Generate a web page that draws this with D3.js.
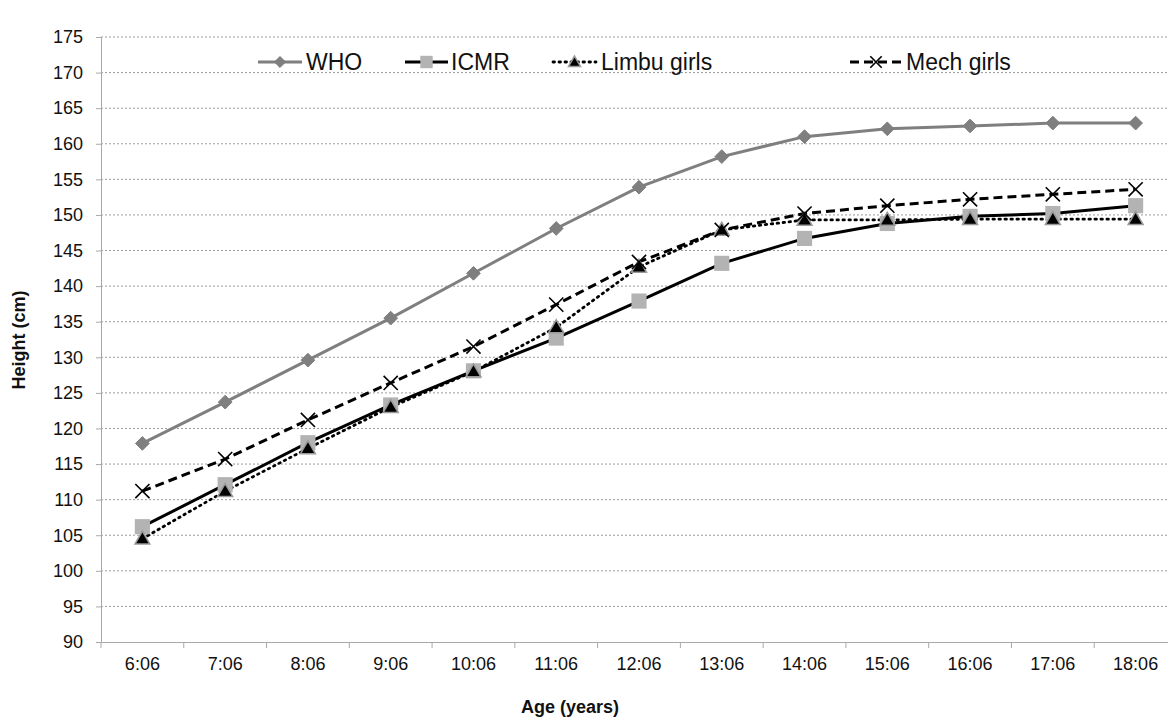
<!DOCTYPE html>
<head>
  <meta charset="utf-8">
  <title>Height by age</title>
  <script src="https://d3js.org/d3.v7.min.js"></script>
  <style>
    body { margin: 0; background: #fff; }
    text { font-family: "Liberation Sans", Arial, sans-serif; fill: #111; }
    .grid line { stroke: #9a9a9a; stroke-dasharray: 2,2; stroke-width: 1; }
  </style>
</head>
<body>
  <script>
    var ages = ["6:06", "7:06", "8:06", "9:06", "10:06", "11:06", "12:06",
                "13:06", "14:06", "15:06", "16:06", "17:06", "18:06"];
    var who   = [117.9, 123.7, 129.6, 135.5, 141.8, 148.1, 153.9, 158.2, 161.0, 162.1, 162.5, 162.9, 162.9];
    var icmr  = [106.2, 112.1, 118.0, 123.3, 128.1, 132.7, 137.9, 143.2, 146.7, 148.8, 149.8, 150.2, 151.3];
    var limbu = [104.5, 111.2, 117.2, 123.0, 128.0, 134.2, 142.7, 147.9, 149.3, 149.3, 149.4, 149.4, 149.4];
    var mech  = [111.2, 115.7, 121.2, 126.4, 131.5, 137.4, 143.4, 147.9, 150.2, 151.3, 152.2, 152.9, 153.6];
    var yTicks = d3.range(90, 176, 5);

    var width = 1168, height = 722,
        plotLeft = 101, plotRight = 1177, plotTop = 37, plotBottom = 642;

    var svg = d3.select("body").append("svg")
        .attr("width", width)
        .attr("height", height);

    var x = d3.scaleBand().domain(ages).range([plotLeft, plotRight]).padding(0),
        y = d3.scaleLinear().domain([90, 175]).range([plotBottom, plotTop]);

    function cx(d, i) { return x(ages[i]) + x.bandwidth() / 2; }

    // gridlines
    svg.append("g").attr("class", "grid")
      .selectAll("line")
      .data(yTicks.slice(1))
      .enter().append("line")
        .attr("x1", plotLeft).attr("x2", width)
        .attr("y1", function(d) { return y(d); })
        .attr("y2", function(d) { return y(d); });

    // y axis
    var yAxis = svg.append("g")
        .attr("transform", "translate(" + plotLeft + ",0)")
        .call(d3.axisLeft(y).tickValues(yTicks).tickSize(5).tickPadding(13));
    yAxis.select(".domain").attr("stroke", "#a8a8a8");
    yAxis.selectAll(".tick line").attr("stroke", "#a8a8a8");
    yAxis.selectAll("text").style("font-size", "18px")
      .style("font-family", "'Liberation Sans', Arial, sans-serif").attr("fill", "#222");

    // x axis
    var xAxis = svg.append("g")
        .attr("transform", "translate(0," + plotBottom + ")")
        .call(d3.axisBottom(x).tickSize(0).tickPadding(15));
    xAxis.select(".domain").attr("stroke", "#a8a8a8");
    xAxis.selectAll("text").style("font-size", "18px")
      .style("font-family", "'Liberation Sans', Arial, sans-serif").attr("fill", "#222");
    svg.append("g").selectAll("line")
      .data(ages)
      .enter().append("line")
        .attr("x1", function(d) { return x(d); })
        .attr("x2", function(d) { return x(d); })
        .attr("y1", plotBottom).attr("y2", plotBottom + 6)
        .attr("stroke", "#a8a8a8");

    // axis titles
    svg.append("text")
      .attr("transform", "translate(25,340) rotate(-90)")
      .attr("text-anchor", "middle")
      .style("font-size", "18px").attr("font-weight", "bold")
      .text("Height (cm)");
    svg.append("text")
      .attr("x", 570).attr("y", 713)
      .attr("text-anchor", "middle")
      .style("font-size", "18px").attr("font-weight", "bold")
      .text("Age (years)");

    var line = d3.line()
        .x(function(d, i) { return cx(d, i); })
        .y(function(d) { return y(d); });

    var series = [
      {name: "WHO", data: who, stroke: "#7f7f7f", dash: null, w: 3, marker: "diamond"},
      {name: "ICMR", data: icmr, stroke: "#000", dash: null, w: 3, marker: "square"},
      {name: "Limbu girls", data: limbu, stroke: "#000", dash: "1.5,4.5", w: 2.8, marker: "triangle"},
      {name: "Mech girls", data: mech, stroke: "#000", dash: "9,5", w: 3, marker: "cross"}
    ];

    function drawMarker(g, type, px, py, s) {
      if (type === "diamond") {
        g.append("path")
          .attr("d", d3.symbol().type(d3.symbolDiamond2).size(s * 0.6)())
          .attr("transform", "translate(" + px + "," + py + ")")
          .attr("fill", "#7f7f7f").attr("stroke", "#7f7f7f").attr("stroke-width", 1);
      } else if (type === "square") {
        var h = Math.sqrt(s) / 2 + 0.5;
        g.append("rect")
          .attr("x", px - h).attr("y", py - h)
          .attr("width", 2 * h).attr("height", 2 * h)
          .attr("fill", "#b3b3b3");
      } else if (type === "triangle") {
        g.append("path")
          .attr("d", d3.symbol().type(d3.symbolTriangle).size(s * 0.48)())
          .attr("transform", "translate(" + px + "," + (py + 1) + ")")
          .attr("fill", "#000").attr("stroke", "#9a9a9a").attr("stroke-width", 1.5);
      } else {
        var r = Math.sqrt(s) / 2;
        g.append("path")
          .attr("d", "M" + (px - r) + "," + (py - r) + "L" + (px + r) + "," + (py + r) +
                     "M" + (px - r) + "," + (py + r) + "L" + (px + r) + "," + (py - r))
          .attr("stroke", "#000").attr("stroke-width", 1.6).attr("fill", "none");
      }
    }

    series.forEach(function(s) {
      svg.append("path")
        .datum(s.data)
        .attr("d", line)
        .attr("fill", "none")
        .attr("stroke", s.stroke)
        .attr("stroke-width", s.w)
        .attr("stroke-dasharray", s.dash)
        .attr("stroke-linecap", s.marker === "triangle" ? "round" : "butt");
    });

    // markers drawn in series order so later ones sit on top
    series.forEach(function(s) {
      var g = svg.append("g");
      s.data.forEach(function(v, i) {
        drawMarker(g, s.marker, cx(v, i), y(v), 200);
      });
    });

    // legend
    var legendItems = [
      {x0: 258, x1: 302, tx: 306},
      {x0: 405, x1: 448, tx: 451},
      {x0: 553, x1: 596, tx: 601},
      {x0: 850, x1: 902, tx: 906}
    ];
    var ly = 62;
    series.forEach(function(s, i) {
      var it = legendItems[i], g = svg.append("g");
      g.append("line")
        .attr("x1", it.x0).attr("x2", it.x1)
        .attr("y1", ly).attr("y2", ly)
        .attr("stroke", s.stroke).attr("stroke-width", s.w)
        .attr("stroke-dasharray", s.dash)
        .attr("stroke-linecap", s.marker === "triangle" ? "round" : "butt");
      drawMarker(g, s.marker, (it.x0 + it.x1) / 2, ly, 130);
      g.append("text")
        .attr("x", it.tx).attr("y", ly + 8)
        .style("font-size", "23px")
        .text(s.name);
    });
  </script>
</body>
